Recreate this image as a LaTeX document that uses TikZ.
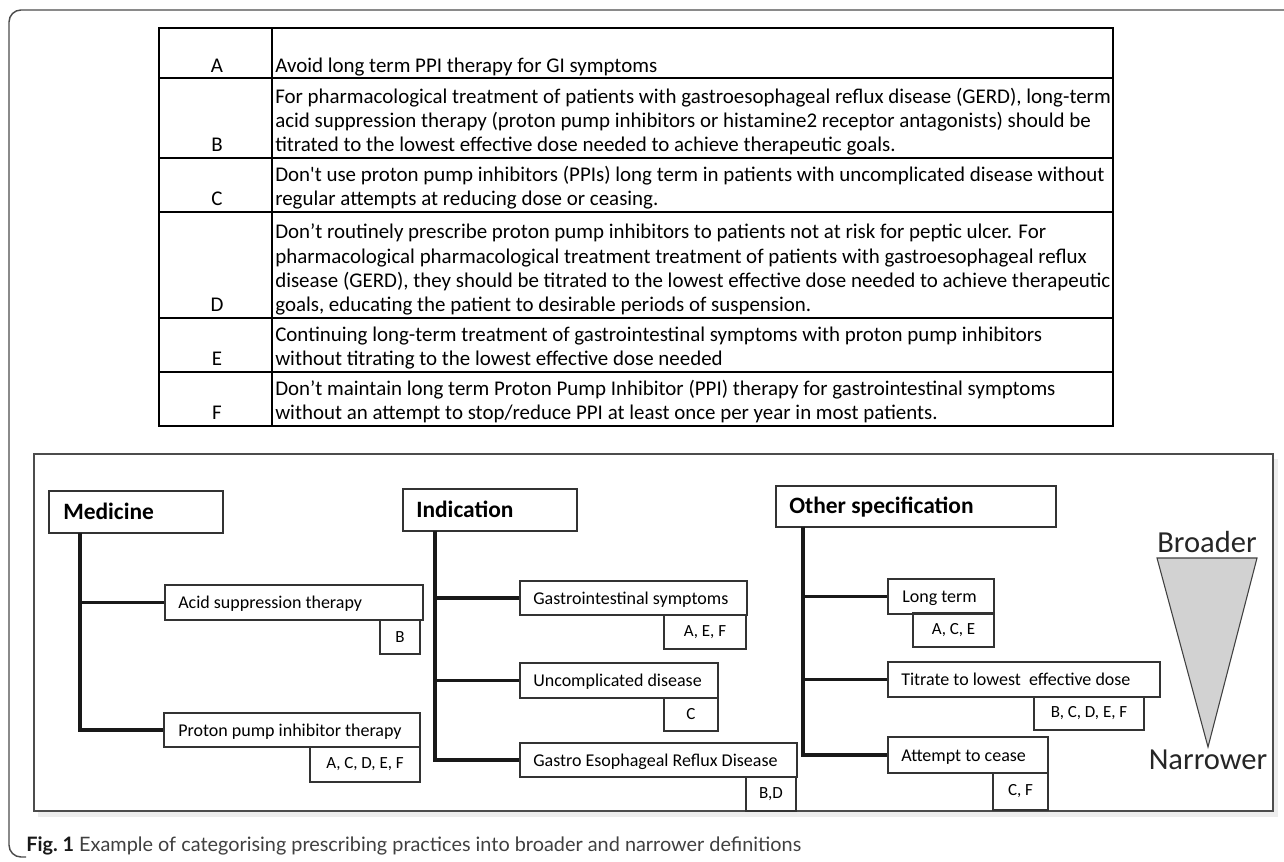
\documentclass[tikz,border=0pt]{standalone}
\usepackage{fontspec}
\setmainfont{Carlito}
\newfontfamily\capfont{Lato}
\usetikzlibrary{fit}
\newcommand{\myfs}[2]{\fontsize{#1}{#2}\selectfont}
\tikzset{
  tbl/.style={line width=1.5pt, draw=black},
  rowtxt/.style={anchor=base west, align=left, inner sep=0pt, font=\myfs{15.7pt}{18.3pt}},
  lettxt/.style={anchor=base, inner sep=0pt, font=\myfs{15.7pt}{18.3pt}},
  outerframe/.style={draw=black!70, line width=1.1pt},
  bx/.style={draw=black!80, line width=0.9pt, inner sep=0pt},
  hdrtxt/.style={anchor=west, inner sep=0pt, text height=0.7em, text depth=0.2em, font=\bfseries\myfs{17.6pt}{20pt}},
  subtxt/.style={anchor=west, inner sep=0pt, text height=0.7em, text depth=0.2em, font=\myfs{13.5pt}{16pt}},
  lbl/.style={bx, font=\myfs{12.75pt}{15pt}},
  lbltxt/.style={inner sep=0pt, font=\myfs{12.75pt}{15pt}},
  br/.style={line width=2.3pt, draw=black!90},
  bigtxt/.style={inner sep=0pt, font=\myfs{22.9pt}{26pt}, text=black!85},
}
\begin{document}
\begin{tikzpicture}[x=0.75pt, y=-0.75pt]
\useasboundingbox (0,0) rectangle (1284,862);
\fill[white] (0,0) rectangle (1284,862);
% outer frame
\draw[outerframe, rounded corners=9pt] (1290,10) -- (9,10) -- (9,857) -- (26,857);
% table
\draw[tbl] (159,28) rectangle (1113,426);
\draw[tbl] (272,28) -- (272,426);
\foreach \yy in {78,158,212,318,372} \draw[tbl] (159,\yy) -- (1113,\yy);
% row letters
\node[lettxt] (la) at (217,73) {A};
\node[lettxt] (lb) at (217,152) {B};
\node[lettxt] (lc) at (217,206) {C};
\node[lettxt] (ld) at (217,312) {D};
\node[lettxt] (le) at (217,366) {E};
\node[lettxt] (lf) at (217,420) {F};
% row texts (base = last line)
\node[rowtxt] (ta) at (275,73) {Avoid long term PPI therapy for GI symptoms};
\node[rowtxt] (tb) at (275,152) {For pharmacological treatment of patients with gastroesophageal reflux disease (GERD), long-term\\acid suppression therapy (proton pump inhibitors or histamine2 receptor antagonists) should be\\titrated to the lowest effective dose needed to achieve therapeutic goals.};
\node[rowtxt] (tc) at (275,206) {Don\textquotesingle t use proton pump inhibitors (PPIs) long term in patients with uncomplicated disease without\\regular attempts at reducing dose or ceasing.};
\node[rowtxt] (td) at (275,312) {Don’t routinely prescribe proton pump inhibitors to patients not at risk for peptic ulcer. For\\pharmacological pharmacological treatment treatment of patients with gastroesophageal reflux\\disease (GERD), they should be titrated to the lowest effective dose needed to achieve therapeutic\\goals, educating the patient to desirable periods of suspension.};
\node[rowtxt] (te) at (275,366) {Continuing long-term treatment of gastrointestinal symptoms with proton pump inhibitors\\without titrating to the lowest effective dose needed};
\node[rowtxt] (tf) at (275,420) {Don’t maintain long term Proton Pump Inhibitor (PPI) therapy for gastrointestinal symptoms\\without an attempt to stop/reduce PPI at least once per year in most patients.};
% lower frame
\fill[black!7] (38,459) rectangle (1278,817);
\draw[outerframe, fill=white] (34,454) rectangle (1273,811);
% Medicine column
\node[bx, fit={(49,491)(223,533)}] (med) {};
\node[hdrtxt] (medt) at (63,516) {Medicine};
\node[bx, fit={(165,585)(423,620)}] (acid) {};
\node[subtxt] (acidt) at (178,605) {Acid suppression therapy};
\node[lbl, fit={(380,620)(420,654)}] (lb1) {};
\node[lbltxt] (lb1t) at (lb1.center) {B};
\node[bx, fit={(164,713)(420,747)}] (ppi) {};
\node[subtxt] (ppit) at (178,733) {Proton pump inhibitor therapy};
\node[lbl, fit={(310,747)(420,782)}] (lb2) {};
\node[lbltxt] (lb2t) at (lb2.center) {A, C, D, E, F};
\coordinate (mtop) at (80,533);
\draw[br] (mtop) |- (acid.west);
\draw[br] (mtop) |- (ppi.west);
% Indication column
\node[bx, fit={(403,489)(577,531)}] (ind) {};
\node[hdrtxt] (indt) at (416,514) {Indication};
\node[bx, fit={(520,581)(747,615)}] (gis) {};
\node[subtxt] (gist) at (533,601) {Gastrointestinal symptoms};
\node[lbl, fit={(664,615)(746,649)}] (lb3) {};
\node[lbltxt] (lb3t) at (lb3.center) {A, E, F};
\node[bx, fit={(520,663)(718,698)}] (unc) {};
\node[subtxt] (unct) at (533,683.5) {Uncomplicated disease};
\node[lbl, fit={(664,698)(718,731)}] (lb4) {};
\node[lbltxt] (lb4t) at (lb4.center) {C};
\node[bx, fit={(520,743)(797,777)}] (gerd) {};
\node[subtxt] (gerdt) at (533,763) {Gastro Esophageal Reflux Disease};
\node[lbl, fit={(746,777)(796,811)}] (lb5) {};
\node[lbltxt] (lb5t) at (lb5.center) {B,D};
\coordinate (itop) at (435,531);
\draw[br] (itop) |- (gis.west);
\draw[br] (itop) |- (unc.west);
\draw[br] (itop) |- (gerd.west);
% Other specification column
\node[bx, fit={(776,486)(1056,527)}] (oth) {};
\node[hdrtxt] (otht) at (789,510.5) {Other specification};
\node[bx, fit={(888,579)(994,614)}] (lt) {};
\node[subtxt] (ltt) at (902,599.5) {Long term};
\node[lbl, fit={(913,613)(994,647)}] (lb6) {};
\node[lbltxt] (lb6t) at (lb6.center) {A, C, E};
\node[bx, fit={(888,662)(1160,697)}] (tit) {};
\node[subtxt] (titt) at (901,682.5) {Titrate to lowest \ effective dose};
\node[lbl, fit={(1034,697)(1144,730)}] (lb7) {};
\node[lbltxt] (lb7t) at (lb7.center) {B, C, D, E, F};
\node[bx, fit={(888,737)(1048,773)}] (att) {};
\node[subtxt] (attt) at (901,758) {Attempt to cease};
\node[lbl, fit={(993,773)(1048,810)}] (lb8) {};
\node[lbltxt] (lb8t) at (lb8.center) {C, F};
\coordinate (otop) at (803,527);
\draw[br] (otop) |- (lt.west);
\draw[br] (otop) |- (tit.west);
\draw[br] (otop) |- (att.west);
% broader / narrower
\draw[fill=gray!35, draw=black!75, line width=0.8pt] (1157,558) -- (1257,558) -- (1208,747) -- cycle;
\node[bigtxt] (broad) at (1207,542) {Broader};
\node[bigtxt] (narrow) at (1208,760) {Narrower};
% caption
\node[anchor=base west, inner sep=0pt, font=\capfont\myfs{14.9pt}{17pt}] (cap) at (26,851) {{\color{black!90}\bfseries Fig.~1} {\color{black!75}Example of categorising prescribing practices into broader and narrower definitions}};
\end{tikzpicture}
\end{document}
